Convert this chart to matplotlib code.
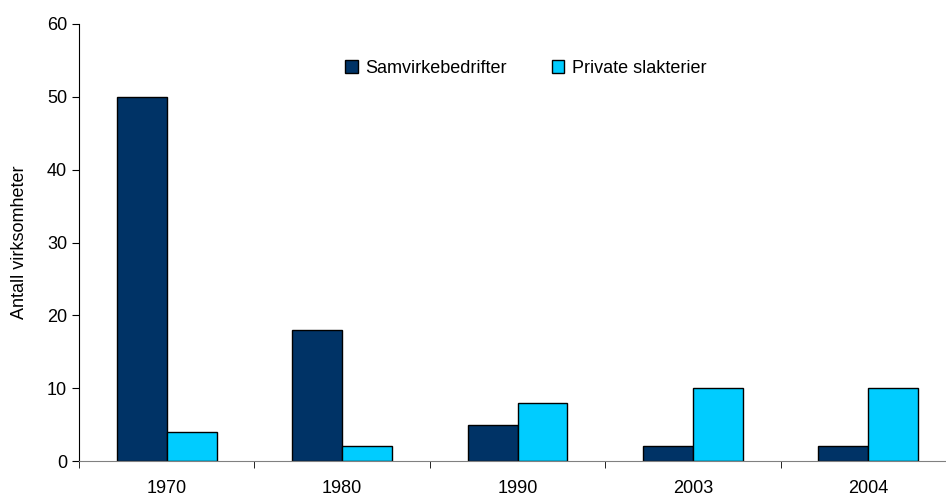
import numpy as np
import matplotlib.pyplot as plt

plt.rcParams['font.family'] = ['Liberation Sans', 'DejaVu Sans']

years = ["1970", "1980", "1990", "2003", "2004"]
samvirke = [50, 18, 5, 2, 2]
private = [4, 2, 8, 10, 10]

fig = plt.figure(figsize=(9.46, 4.96), dpi=100)
ax = fig.add_axes([79 / 946, 35 / 496, 877 / 946, 437 / 496])

x = np.arange(len(years))
w = 0.285
ax.bar(x - w / 2, samvirke, w, color="#003366", edgecolor="black", linewidth=1,
       label="Samvirkebedrifter")
ax.bar(x + w / 2, private, w, color="#00CCFF", edgecolor="black", linewidth=1,
       label="Private slakterier")

ax.set_xlim(-0.5, len(years) - 0.5)
ax.set_ylim(0, 60)
ax.set_yticks(range(0, 61, 10))
ax.set_xticks(x)
ax.set_xticklabels(years, fontsize=13)
ax.set_xticks(np.arange(-0.5, len(years), 1), minor=True)
ax.tick_params(axis="x", which="major", length=0, pad=14)
ax.tick_params(axis="x", which="minor", length=5, direction="out")
ax.tick_params(axis="y", length=5, direction="out", labelsize=13)
ax.set_ylabel("Antall virksomheter", fontsize=13, labelpad=14)

for s in ["top", "right"]:
    ax.spines[s].set_visible(False)
ax.spines["left"].set_color("black")
ax.spines["bottom"].set_color("gray")

ax.legend(loc="upper left", bbox_to_anchor=(0.285, 0.955), ncol=2, frameon=False,
          fontsize=13, handlelength=0.7, handleheight=0.7, columnspacing=2.5,
          handletextpad=0.4)

fig.savefig("out.png", dpi=100)
